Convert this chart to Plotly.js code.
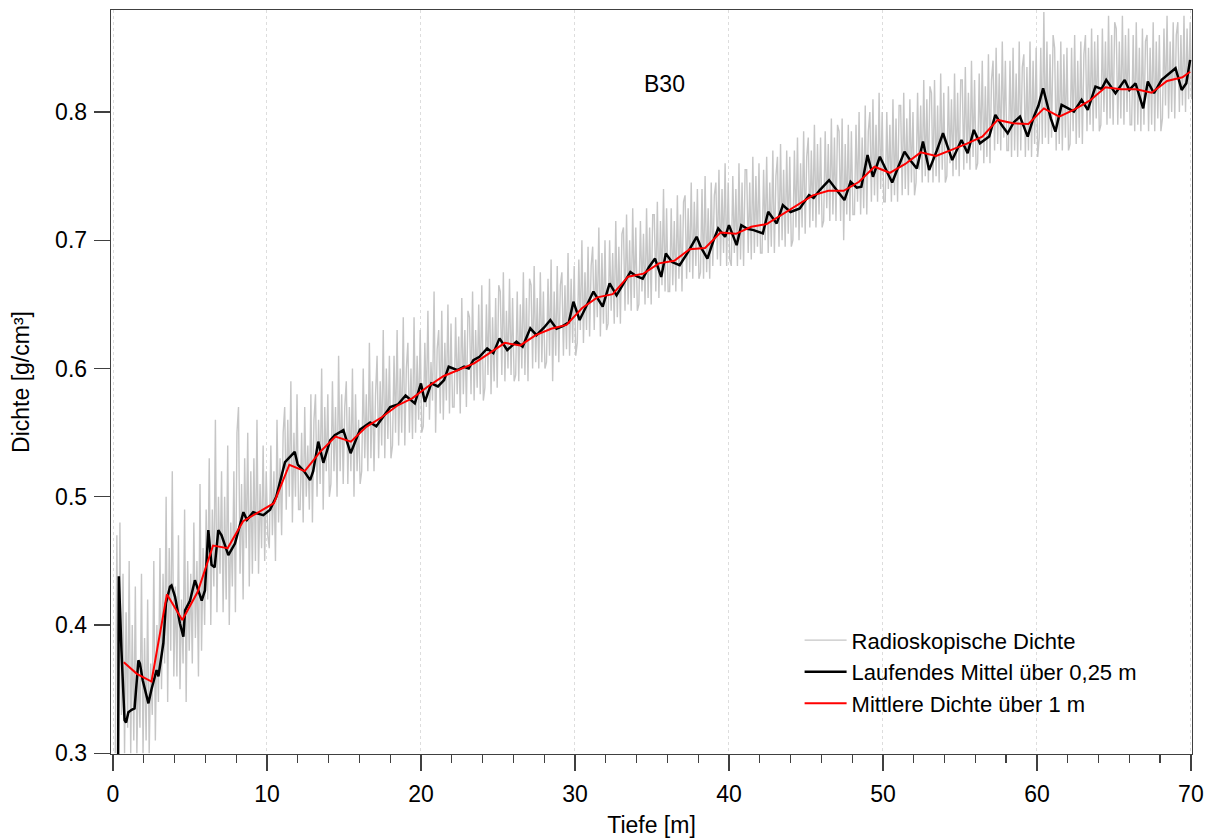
<!DOCTYPE html>
<html>
<head>
<meta charset="utf-8">
<script src="https://cdn.plot.ly/plotly-3.0.1.min.js"></script>
<style>html,body{margin:0;padding:0;background:#fff;}#chart{width:1215px;height:838px;}</style>
</head>
<body>
<div id="chart"></div>
<script>
// ---- data ----
const seriesNames = ["Radioskopische Dichte", "Laufendes Mittel über 0,25 m", "Mittlere Dichte über 1 m"];
const chartLabel = "B30";
const xTitle = "Tiefe [m]";
const yTitle = "Dichte [g/cm³]";

// raw radioscopic density, one value every 0.1 m starting at 0.15 m (one row per metre)
const grayStart = 0.15;
const grayStep = 0.1;
const grayDensity = [
  0.30,0.47,0.31,0.48,0.33,0.44,0.30,0.41,0.32,0.45,
  0.30,0.40,0.31,0.43,0.30,0.37,0.32,0.44,0.30,0.39,
  0.31,0.42,0.30,0.37,0.33,0.45,0.31,0.40,0.34,0.46,
  0.35,0.44,0.37,0.50,0.34,0.46,0.38,0.52,0.36,0.43,
  0.36,0.47,0.35,0.42,0.37,0.49,0.34,0.45,0.38,0.44,
  0.37,0.48,0.39,0.45,0.36,0.51,0.38,0.46,0.40,0.49,
  0.42,0.53,0.40,0.49,0.43,0.56,0.41,0.50,0.44,0.52,
  0.41,0.50,0.42,0.54,0.40,0.48,0.43,0.52,0.41,0.55,
  0.57,0.44,0.51,0.42,0.53,0.46,0.55,0.43,0.52,0.44,
  0.53,0.45,0.56,0.44,0.51,0.46,0.54,0.45,0.52,0.47,
  0.46,0.54,0.47,0.52,0.45,0.56,0.48,0.53,0.47,0.55,
  0.57,0.49,0.56,0.50,0.59,0.48,0.55,0.50,0.58,0.49,
  0.49,0.55,0.48,0.57,0.50,0.54,0.49,0.58,0.48,0.56,
  0.58,0.50,0.56,0.51,0.60,0.49,0.57,0.52,0.58,0.50,
  0.51,0.59,0.52,0.57,0.50,0.61,0.52,0.58,0.51,0.57,
  0.59,0.51,0.57,0.52,0.60,0.50,0.58,0.52,0.56,0.51,
  0.52,0.60,0.53,0.58,0.52,0.62,0.53,0.59,0.52,0.58,
  0.61,0.53,0.59,0.54,0.63,0.53,0.60,0.545,0.61,0.53,
  0.54,0.61,0.55,0.63,0.54,0.60,0.55,0.64,0.54,0.60,
  0.62,0.55,0.60,0.545,0.64,0.55,0.61,0.56,0.63,0.55,
  0.555,0.62,0.57,0.645,0.56,0.605,0.575,0.66,0.55,0.615,
  0.63,0.565,0.645,0.56,0.62,0.575,0.65,0.565,0.635,0.57,
  0.57,0.64,0.58,0.625,0.565,0.655,0.58,0.63,0.57,0.645,
  0.64,0.58,0.66,0.575,0.63,0.585,0.65,0.58,0.665,0.575,
  0.585,0.65,0.595,0.67,0.58,0.64,0.59,0.655,0.585,0.665,
  0.66,0.595,0.675,0.59,0.645,0.60,0.67,0.595,0.655,0.59,
  0.595,0.66,0.59,0.65,0.60,0.675,0.595,0.655,0.59,0.67,
  0.665,0.60,0.68,0.605,0.655,0.60,0.675,0.605,0.66,0.60,
  0.605,0.67,0.61,0.685,0.59,0.66,0.61,0.68,0.605,0.665,
  0.675,0.61,0.665,0.615,0.69,0.61,0.67,0.62,0.68,0.61,
  0.62,0.685,0.63,0.70,0.62,0.675,0.63,0.695,0.625,0.68,
  0.695,0.63,0.685,0.64,0.71,0.625,0.69,0.635,0.70,0.63,
  0.635,0.70,0.645,0.69,0.635,0.715,0.64,0.695,0.635,0.705,
  0.71,0.645,0.72,0.65,0.70,0.645,0.725,0.655,0.71,0.645,
  0.65,0.715,0.66,0.705,0.65,0.725,0.655,0.71,0.65,0.72,
  0.72,0.66,0.73,0.655,0.715,0.665,0.74,0.66,0.725,0.66,
  0.66,0.725,0.665,0.715,0.66,0.735,0.67,0.72,0.66,0.73,
  0.735,0.67,0.725,0.675,0.745,0.67,0.73,0.68,0.74,0.67,
  0.675,0.74,0.67,0.75,0.675,0.725,0.67,0.745,0.68,0.735,
  0.745,0.685,0.755,0.68,0.74,0.69,0.76,0.68,0.745,0.685,
  0.68,0.75,0.69,0.74,0.68,0.76,0.685,0.745,0.68,0.755,
  0.755,0.69,0.745,0.685,0.765,0.69,0.75,0.695,0.76,0.69,
  0.69,0.755,0.70,0.765,0.69,0.745,0.695,0.77,0.69,0.75,
  0.765,0.695,0.775,0.70,0.755,0.695,0.77,0.705,0.765,0.695,
  0.70,0.77,0.71,0.78,0.70,0.76,0.71,0.785,0.705,0.765,
  0.78,0.71,0.77,0.715,0.79,0.71,0.775,0.72,0.78,0.71,
  0.715,0.785,0.725,0.775,0.715,0.795,0.72,0.78,0.715,0.79,
  0.785,0.715,0.795,0.70,0.775,0.72,0.79,0.715,0.785,0.72,
  0.72,0.79,0.73,0.80,0.72,0.78,0.725,0.805,0.72,0.785,
  0.80,0.73,0.81,0.735,0.79,0.73,0.815,0.74,0.80,0.73,
  0.73,0.80,0.74,0.79,0.73,0.81,0.735,0.795,0.73,0.805,
  0.805,0.735,0.815,0.74,0.795,0.735,0.81,0.745,0.80,0.735,
  0.745,0.815,0.755,0.805,0.745,0.825,0.75,0.81,0.745,0.82,
  0.815,0.745,0.825,0.75,0.805,0.745,0.83,0.755,0.815,0.745,
  0.75,0.82,0.76,0.81,0.75,0.83,0.755,0.815,0.75,0.825,
  0.825,0.755,0.835,0.76,0.815,0.755,0.84,0.765,0.825,0.755,
  0.76,0.83,0.77,0.84,0.76,0.82,0.765,0.845,0.76,0.825,
  0.84,0.77,0.85,0.775,0.83,0.77,0.855,0.78,0.84,0.77,
  0.77,0.84,0.765,0.85,0.77,0.83,0.765,0.855,0.77,0.835,
  0.845,0.765,0.835,0.77,0.855,0.765,0.84,0.775,0.85,0.765,
  0.78,0.85,0.775,0.878,0.78,0.855,0.775,0.845,0.78,0.86,
  0.85,0.77,0.84,0.775,0.855,0.77,0.845,0.78,0.85,0.77,
  0.775,0.85,0.785,0.86,0.775,0.84,0.78,0.855,0.775,0.845,
  0.86,0.785,0.85,0.79,0.865,0.785,0.855,0.795,0.86,0.785,
  0.79,0.865,0.80,0.855,0.79,0.875,0.795,0.86,0.79,0.87,
  0.865,0.79,0.855,0.795,0.875,0.79,0.86,0.80,0.865,0.79,
  0.79,0.86,0.785,0.87,0.79,0.85,0.785,0.865,0.79,0.855,
  0.86,0.785,0.85,0.79,0.87,0.785,0.855,0.795,0.86,0.785,
  0.795,0.865,0.805,0.875,0.795,0.855,0.80,0.87,0.795,0.86,
  0.87,0.80,0.86,0.805,0.875,0.80,0.865,0.81,0.87,0.81
];

// running mean over 0.25 m
const blackDepth = [
  0.33,0.38,0.55,0.75,0.85,1.0,1.21,1.4,1.65,1.75,1.93,2.3,2.5,2.83,2.95,3.27,3.44,3.7,3.8,4.03,
  4.35,4.57,4.68,5.0,5.32,5.45,5.76,5.97,6.19,6.4,6.6,6.84,7.05,7.49,7.92,8.47,8.7,9.1,9.76,10.2,
  10.6,11.17,11.5,11.8,12.0,12.4,12.8,13.0,13.33,13.66,14.1,14.4,14.96,15.43,16.04,16.7,17.1,17.5,18.0,18.5,
  19.0,19.6,20.0,20.25,20.67,21.1,21.5,21.8,22.37,22.8,23.1,23.4,23.8,24.3,24.7,25.1,25.6,26.2,26.6,27.1,
  27.5,28.0,28.4,28.8,29.2,29.6,29.9,30.3,30.7,31.2,31.8,32.25,32.7,33.1,33.6,34.0,34.4,34.8,35.2,35.6,
  35.9,36.3,36.8,37.3,37.9,38.2,38.6,39.0,39.3,39.75,40.0,40.5,40.8,41.2,41.6,42.2,42.55,43.1,43.5,44.0,
  44.6,45.2,45.5,45.9,46.5,47.0,47.5,47.9,48.3,48.6,49.0,49.35,49.8,50.2,50.6,51.0,51.4,51.8,52.2,52.6,
  53.0,53.5,53.9,54.5,55.1,55.5,55.9,56.3,56.9,57.3,57.7,58.1,58.5,58.9,59.4,59.8,60.1,60.4,60.6,60.9,
  61.2,61.6,62.0,62.4,62.9,63.3,63.8,64.2,64.5,65.1,65.7,66.0,66.4,66.9,67.2,67.6,68.1,68.7,69.0,69.4,
  69.7,69.95
];
const blackDensity = [
  0.29,0.438,0.38,0.326,0.324,0.332,0.334,0.335,0.3725,0.37,0.357,0.339,0.35,0.365,0.36,0.386,0.417,0.43,0.431,0.422,
  0.401,0.391,0.4115,0.419,0.435,0.43,0.419,0.427,0.474,0.447,0.445,0.474,0.47,0.4545,0.4636,0.488,0.482,0.488,0.4857,0.49,
  0.50,0.527,0.531,0.535,0.525,0.52,0.513,0.52,0.543,0.5265,0.544,0.548,0.552,0.534,0.5525,0.558,0.555,0.562,0.570,0.572,
  0.579,0.5728,0.5884,0.574,0.5884,0.586,0.591,0.6014,0.5988,0.6014,0.600,0.6066,0.6092,0.6157,0.612,0.6235,0.6144,0.621,0.617,0.6313,
  0.626,0.632,0.6378,0.631,0.6331,0.636,0.6521,0.6378,0.648,0.660,0.6482,0.6664,0.6571,0.665,0.6753,0.672,0.6701,0.679,0.6857,0.6714,
  0.6896,0.683,0.6805,0.690,0.7027,0.694,0.6857,0.70,0.7092,0.7027,0.7118,0.6962,0.7118,0.709,0.7079,0.7053,0.7222,0.7131,0.7274,0.722,
  0.7248,0.7352,0.733,0.7391,0.7469,0.739,0.7313,0.7456,0.741,0.7417,0.7664,0.7495,0.7651,0.755,0.745,0.7573,0.7691,0.762,0.756,0.7769,
  0.7547,0.770,0.7834,0.7625,0.7782,0.7678,0.786,0.7756,0.7808,0.7977,0.790,0.7834,0.792,0.7964,0.7808,0.7964,0.805,0.8185,0.8094,0.795,
  0.7847,0.8055,0.803,0.8003,0.8094,0.8016,0.8198,0.818,0.825,0.8146,0.825,0.8172,0.8224,0.8029,0.8237,0.8146,0.825,0.8315,0.8341,0.8172,
  0.8224,0.8406
];

// mean density per metre
const redDepth = [
  0.7,1.55,2.5,3.5,4.5,5.5,6.5,7.45,8.45,9.45,10.45,11.45,12.45,13.45,14.45,15.45,16.45,17.45,18.45,19.45,
  20.45,21.45,22.45,23.45,24.45,25.45,26.45,27.45,28.45,29.45,30.45,31.45,32.45,33.45,34.45,35.45,36.45,37.45,38.45,39.45,
  40.45,41.45,42.45,43.45,44.45,45.45,46.45,47.45,48.45,49.45,50.45,51.45,52.45,53.45,54.45,55.45,56.45,57.45,58.45,59.45,
  60.45,61.45,62.45,63.45,64.45,65.45,66.45,67.45,68.45,69.45,69.95
];
const redDensity = [
  0.371,0.362,0.356,0.424,0.404,0.426,0.462,0.460,0.481,0.488,0.495,0.525,0.520,0.535,0.547,0.543,0.5545,0.562,0.571,0.577,
  0.586,0.594,0.599,0.604,0.612,0.620,0.618,0.626,0.631,0.634,0.647,0.6555,0.658,0.6716,0.674,0.682,0.684,0.693,0.694,0.706,
  0.705,0.7105,0.7126,0.720,0.7275,0.735,0.7386,0.7386,0.7456,0.7573,0.7526,0.7595,0.7685,0.7657,0.7705,0.7753,0.7808,0.7938,0.7912,0.7906,
  0.8028,0.7964,0.802,0.809,0.8193,0.8177,0.8177,0.815,0.8242,0.827,0.8314
];

// ---- drawing ----
const FONT = "Liberation Sans, Arial, Helvetica, sans-serif";
const AXC = "#404040";
const FS = 23;

const traces = [
  {
    type: "scatter", mode: "lines", name: seriesNames[0],
    x0: grayStart, dx: grayStep, y: grayDensity,
    line: {color: "#c6c6c6", width: 1.4}
  },
  {
    type: "scatter", mode: "lines", name: seriesNames[1],
    x: blackDepth, y: blackDensity,
    line: {color: "#000000", width: 2.5}
  },
  {
    type: "scatter", mode: "lines", name: seriesNames[2],
    x: redDepth, y: redDensity,
    line: {color: "#ff0000", width: 2}
  }
];

const layout = {
  width: 1215, height: 838,
  margin: {l: 111, r: 23, t: 10, b: 84, pad: 0},
  paper_bgcolor: "#ffffff", plot_bgcolor: "#ffffff",
  font: {family: FONT, size: FS, color: "#000000"},
  showlegend: true,
  legend: {
    x: 0.637, y: 0.181, xanchor: "left", yanchor: "top",
    bgcolor: "rgba(255,255,255,0)", borderwidth: 0,
    font: {family: FONT, size: 22, color: "#000000"},
    itemwidth: 42, tracegroupgap: 0
  },
  xaxis: {
    range: [-0.13, 70.07],
    tickmode: "linear", tick0: 0, dtick: 10,
    ticks: "outside", ticklen: 16, tickwidth: 1.3, tickcolor: AXC,
    minor: {ticks: "outside", ticklen: 8, tickwidth: 1.3, tickcolor: AXC, dtick: 2, tick0: 0, showgrid: false},
    showline: true, linecolor: AXC, linewidth: 1.3, mirror: true,
    showgrid: true, gridcolor: "#dddddd", gridwidth: 1, griddash: "dot",
    zeroline: false,
    tickfont: {family: FONT, size: FS, color: "#000000"},
    ticklabelstandoff: 3,
    title: {text: xTitle, font: {family: FONT, size: FS, color: "#000000"}, standoff: 11}
  },
  yaxis: {
    range: [0.2995, 0.8795],
    tickmode: "linear", tick0: 0.3, dtick: 0.1, tickformat: ".1f",
    ticks: "outside", ticklen: 16, tickwidth: 1.3, tickcolor: AXC,
    showline: true, linecolor: AXC, linewidth: 1.3, mirror: true,
    showgrid: false, zeroline: false,
    tickfont: {family: FONT, size: FS, color: "#000000"},
    ticklabelstandoff: 2,
    title: {text: yTitle, font: {family: FONT, size: FS, color: "#000000"}, standoff: 19}
  },
  annotations: [
    {text: chartLabel, xref: "paper", yref: "paper", x: 0.512, y: 0.9, xanchor: "center", yanchor: "middle",
     showarrow: false, font: {family: FONT, size: FS, color: "#000000"}}
  ]
};

Plotly.newPlot("chart", traces, layout, {displayModeBar: false, staticPlot: true});
</script>
</body>
</html>
